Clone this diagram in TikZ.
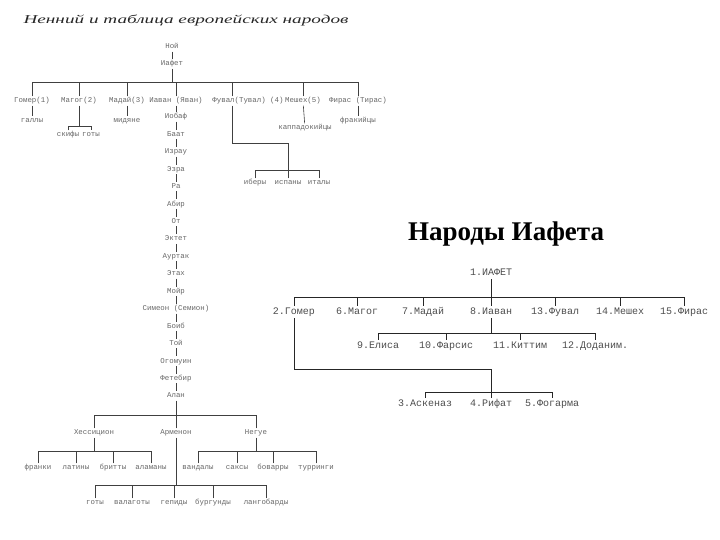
\documentclass[tikz,border=0pt]{standalone}
\usepackage{fontspec}
\setmainfont{Liberation Serif}
\newfontfamily\kodfont{Liberation Mono}
\usetikzlibrary{positioning}
\tikzset{
  imja/.style={font=\kodfont\fontsize{7.4}{8}\selectfont, text=black!60, inner sep=1pt,
    text height=5.4pt, text depth=1.6pt},
  narod/.style={font=\kodfont\fontsize{10}{11}\selectfont, text=black!70, inner sep=1.5pt,
    text height=7pt, text depth=2pt},
  vetv/.style={draw=black!75, line width=0.6pt},
  rvetv/.style={draw=black!85, line width=0.7pt},
}

\begin{document}
\begin{tikzpicture}[x=1pt,y=-1pt]
  \useasboundingbox (0,0) rectangle (720,540);

  % Ненний
  \node[font=\fontsize{12}{14}\selectfont\itshape, text=black!85] (zagl1) at (186,20)
    {\scalebox{1.6}[1]{Ненний и таблица европейских народов}};
  \node[imja] (noj) at (172,47) {Ной};
  \node[imja] (iafet) at (172,64) {Иафет};
  \draw[vetv] (noj) -- (iafet);
  \coordinate (shina) at (172,82);
  \draw[vetv] (iafet) -- (shina);
  \foreach \n/\x/\t in {gomer/32/Гомер(1), magog/79/Магог(2), madaj/127/Мадай(3),
      iavan/176/Иаван (Яван), meshex/303/Мешех(5), firas/358/Фирас (Тирас)} {
    \node[imja] (\n) at (\x,101) {\t};
    \draw[vetv] (\n) -- (\n |- shina);
  }
  % Фувал стоит правее своей ветки
  \node[imja] (fuval) at (248,101) {Фувал(Тувал) (4)};
  \coordinate (fuvalx) at (232,101);
  \draw[vetv] (fuval.north -| fuvalx) -- (fuvalx |- shina);
  \draw[vetv] (gomer |- shina) -- (firas |- shina);

  \node[imja] (gally) at (32,121) {галлы};
  \node[imja] (midjane) at (127,121) {мидяне};
  \node[imja] (frak) at (358,121) {фракийцы};
  \node[imja] (kappa) at (305,128) {каппадокийцы};
  \draw[vetv] (gomer) -- (gally);
  \draw[vetv] (madaj) -- (midjane);
  \draw[vetv] (firas) -- (frak);
  \draw[vetv] (meshex) -- (kappa);

  % Магог
  \coordinate (magogsh) at (79,126);
  \node[imja] (skify) at (68,135) {скифы};
  \node[imja] (goty1) at (91,135) {готы};
  \draw[vetv] (magog) -- (magogsh);
  \draw[vetv] (skify.north) -- (skify |- magogsh) -- (goty1 |- magogsh) -- (goty1.north);

  % Фувал
  \coordinate (fuvalugol) at (288,143);
  \coordinate (fuvalsh) at (288,170);
  \draw[vetv] (fuval.south -| fuvalx) |- (fuvalugol) -- (fuvalsh);
  \foreach \n/\x/\t in {ibery/255/иберы, ispany/288/испаны, italy/319/италы} {
    \node[imja] (\n) at (\x,183) {\t};
    \draw[vetv] (\n) -- (\n |- fuvalsh);
  }
  \draw[vetv] (ibery |- fuvalsh) -- (italy |- fuvalsh);

  % Иаван ... Алан
  \foreach \n/\t [count=\i from 0, remember=\n as \prev (initially iavan)] in
      {iobaf/Иобаф, baat/Баат, izrau/Израу, ezra/Эзра, ra/Ра, abir/Абир, ot/От,
       ektet/Эктет, aurtak/Ауртак, etax/Этах, mojr/Мойр, simeon/Симеон (Семион),
       boib/Боиб, toj/Той, ogomuin/Огомуин, fetebir/Фетебир, alan/Алан} {
    \node[imja] (\n) at (176,{117+17.44*\i}) {\t};
    \draw[vetv] (\prev) -- (\n);
  }

  \coordinate (alansh) at (176,415);
  \draw[vetv] (alan) -- (alansh);
  \foreach \n/\x/\t in {hess/94/Хессицион, armenon/176/Арменон, negue/256/Негуе} {
    \node[imja] (\n) at (\x,433) {\t};
    \draw[vetv] (\n) -- (\n |- alansh);
  }
  \draw[vetv] (hess |- alansh) -- (negue |- alansh);

  \coordinate (hesssh) at (94,451);
  \draw[vetv] (hess) -- (hesssh);
  \foreach \n/\x/\t in {franki/38/франки, latiny/76/латины, britty/113/бритты, alamany/151/аламаны} {
    \node[imja] (\n) at (\x,468) {\t};
    \draw[vetv] (\n) -- (\n |- hesssh);
  }
  \draw[vetv] (franki |- hesssh) -- (alamany |- hesssh);

  \coordinate (neguesh) at (256,451);
  \draw[vetv] (negue) -- (neguesh);
  \foreach \n/\x/\t in {vandaly/198/вандалы, saksy/237/саксы, bovarry/273/боварры, turringi/316/турринги} {
    \node[imja] (\n) at (\x,468) {\t};
    \draw[vetv] (\n) -- (\n |- neguesh);
  }
  \draw[vetv] (vandaly |- neguesh) -- (turringi |- neguesh);

  \coordinate (armsh) at (176,485);
  \draw[vetv] (armenon) -- (armsh);
  \foreach \n/\x/\t in {goty/95/готы, valagoty/132/валаготы, gepidy/174/гепиды,
      burgundy/213/бургунды, langob/266/лангобарды} {
    \node[imja] (\n) at (\x,503) {\t};
    \draw[vetv] (\n) -- (\n |- armsh);
  }
  \draw[vetv] (goty |- armsh) -- (langob |- armsh);

  % Народы Иафета
  \node[font=\fontsize{27}{30}\selectfont\bfseries] (zagl2) at (506,234) {Народы Иафета};
  \node[narod] (iafet2) at (491,273) {1.ИАФЕТ};
  \coordinate (bar2) at (491,297);
  \draw[rvetv] (iafet2) -- (bar2);
  \foreach \n/\x/\t in {gomer2/294/2.Гомер, magog2/357/6.Магог, madaj2/423/7.Мадай,
      iavan2/491/8.Иаван, fuval2/555/13.Фувал, meshex2/620/14.Мешех, firas2/684/15.Фирас} {
    \node[narod] (\n) at (\x,312) {\t};
    \draw[rvetv] (\n) -- (\n |- bar2);
  }
  \draw[rvetv] (gomer2 |- bar2) -- (firas2 |- bar2);

  \coordinate (iavansh) at (491,333);
  \draw[rvetv] (iavan2) -- (iavansh);
  \foreach \n/\x/\t in {elisa/378/9.Елиса, farsis/446/10.Фарсис, kittim/520/11.Киттим,
      dodanim/595/12.Доданим.} {
    \node[narod] (\n) at (\x,346) {\t};
    \draw[rvetv] (\n) -- (\n |- iavansh);
  }
  \draw[rvetv] (elisa |- iavansh) -- (dodanim |- iavansh);

  \coordinate (gomerugol) at (491,369);
  \coordinate (gomersh) at (491,392);
  \draw[rvetv] (gomer2) |- (gomerugol) -- (gomersh);
  \foreach \n/\x/\t in {askenaz/425/3.Аскеназ, rifat/491/4.Рифат, fogarma/552/5.Фогарма} {
    \node[narod] (\n) at (\x,404) {\t};
    \draw[rvetv] (\n) -- (\n |- gomersh);
  }
  \draw[rvetv] (askenaz |- gomersh) -- (fogarma |- gomersh);
\end{tikzpicture}
\end{document}
